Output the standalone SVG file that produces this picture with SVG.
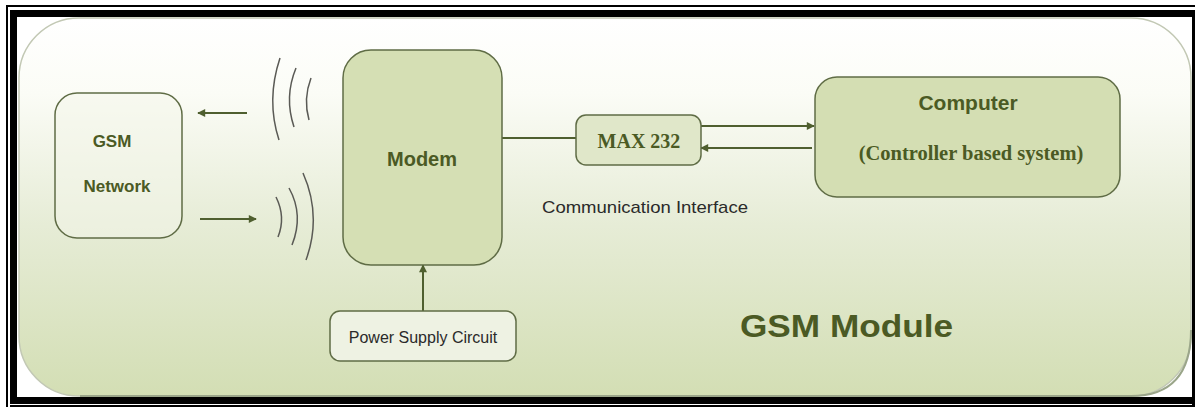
<svg xmlns="http://www.w3.org/2000/svg" width="1195" height="407" viewBox="0 0 1195 407">
<defs>
<linearGradient id="bg" x1="0" y1="0" x2="0" y2="1">
<stop offset="0" stop-color="#ffffff"/>
<stop offset="0.2" stop-color="#fbfcf6"/>
<stop offset="0.55" stop-color="#e6ecd6"/>
<stop offset="1" stop-color="#d3deb4"/>
</linearGradient>
<marker id="ah" viewBox="0 0 10 10" refX="9" refY="5" markerWidth="9" markerHeight="8" markerUnits="userSpaceOnUse" orient="auto">
<path d="M0,0 L10,5 L0,10 Z" fill="#4f5f2f"/>
</marker>
<style>
.box{stroke:#5f6c45;stroke-width:1.5}
.olive{fill:#4b5a24;font-family:"Liberation Sans",Arial,sans-serif;font-weight:bold}
.serif{fill:#4b5a24;font-family:"Liberation Serif","Times New Roman",serif;font-weight:bold}
.plain{fill:#2a2a2a;font-family:"Liberation Sans",Arial,sans-serif}
.conn{stroke:#4f5f2f;stroke-width:2;fill:none}
.wave{stroke:#5a5a55;stroke-width:1.5;fill:none}
</style>
</defs>
<rect x="0" y="0" width="1195" height="407" fill="#ffffff"/>
<g id="frame">
<rect x="6" y="5" width="1195" height="2" fill="#000"/>
<rect x="6" y="5" width="2" height="402" fill="#000"/>
<rect x="10" y="10" width="1185" height="7" fill="#000"/>
<rect x="10" y="10" width="7" height="394" fill="#000"/>
<rect x="10" y="397" width="1185" height="7" fill="#000"/>
<rect x="10" y="405" width="1185" height="2" fill="#000"/>
<rect x="1192" y="10" width="3" height="397" fill="#000"/>
</g>
<g id="panel">
<rect x="19" y="18" width="1172" height="378" rx="60" ry="60" fill="url(#bg)" stroke="#c2c8b4" stroke-width="1.5"/>
<path d="M1191,330 Q1191,396 1131,396 L80,396" fill="none" stroke="#9aa589" stroke-width="2"/>
</g>
<g id="connectors">
<line class="conn" x1="247" y1="113" x2="198" y2="113" marker-end="url(#ah)"/>
<line class="conn" x1="200" y1="219" x2="256" y2="219" marker-end="url(#ah)"/>
<line class="conn" x1="502" y1="138" x2="576" y2="138"/>
<line class="conn" x1="701" y1="126" x2="814" y2="126" marker-end="url(#ah)"/>
<line class="conn" x1="812" y1="148" x2="701" y2="148" marker-end="url(#ah)"/>
<line class="conn" x1="423" y1="311" x2="423" y2="265" marker-end="url(#ah)"/>
</g>
<g id="waves">
<path class="wave" d="M280,58 Q266,100 279,140"/>
<path class="wave" d="M296,68 Q284,97 294,127"/>
<path class="wave" d="M311,78 Q303,99 309,120"/>
<path class="wave" d="M276,197 Q286,217 278,237"/>
<path class="wave" d="M289,188 Q304,215 292,245"/>
<path class="wave" d="M303,173 Q322,216 306,260"/>
</g>
<g id="gsm-network">
<rect class="box" x="55" y="93" width="127" height="145" rx="22" fill="#f3f6ea" fill-opacity="0.5"/>
<text class="olive" x="112" y="147" font-size="17" text-anchor="middle">GSM</text>
<text class="olive" x="117" y="192" font-size="17" text-anchor="middle">Network</text>
</g>
<g id="modem">
<rect class="box" x="343" y="50" width="159" height="215" rx="28" fill="#d5dfb4"/>
<text class="olive" x="422" y="166" font-size="20" text-anchor="middle">Modem</text>
</g>
<g id="max232">
<rect class="box" x="576" y="115" width="125" height="50" rx="10" fill="#e0e7c9"/>
<text class="serif" x="639" y="148" font-size="20" text-anchor="middle">MAX 232</text>
</g>
<g id="computer">
<rect class="box" x="815" y="77" width="305" height="120" rx="22" fill="#d4deb3"/>
<text class="olive" x="968" y="110" font-size="21" text-anchor="middle">Computer</text>
<text class="serif" x="971" y="160" font-size="20.5" text-anchor="middle">(Controller based system)</text>
</g>
<g id="power-supply">
<rect class="box" x="330" y="311" width="186" height="50" rx="10" fill="#eef2e3"/>
<text class="plain" x="423" y="343" font-size="16" text-anchor="middle">Power Supply Circuit</text>
</g>
<g id="labels">
<text class="plain" x="542" y="213" font-size="17" textLength="206" lengthAdjust="spacingAndGlyphs">Communication  Interface</text>
<text class="olive" x="740" y="337" font-size="32" textLength="213" lengthAdjust="spacingAndGlyphs">GSM  Module</text>
</g>
</svg>
